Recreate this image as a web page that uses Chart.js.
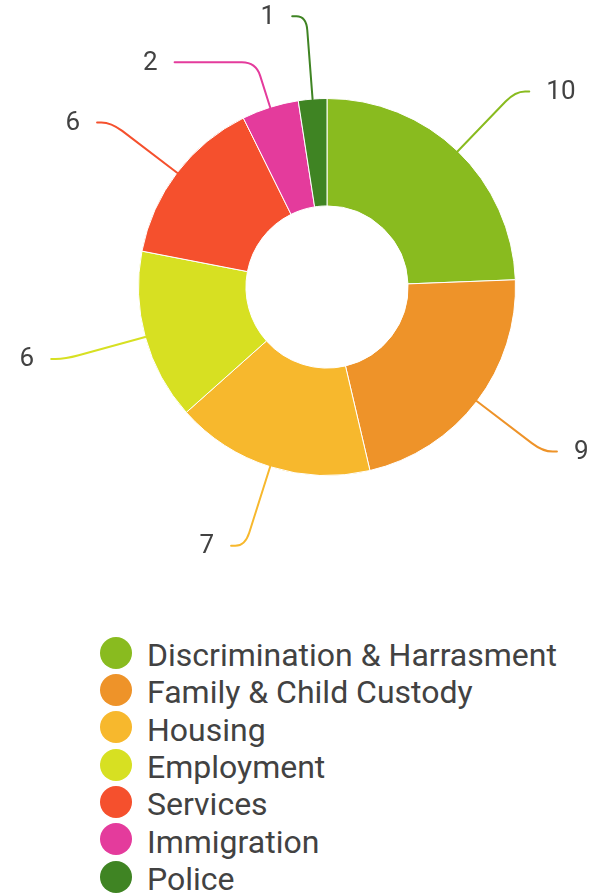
<!DOCTYPE html>
<html>
<head>
<meta charset="utf-8">
<script src="https://cdn.jsdelivr.net/npm/chart.js@4.4.0/dist/chart.umd.min.js"></script>
<style>
  html, body { margin: 0; padding: 0; background: #fff; }
  body { width: 605px; height: 894px; overflow: hidden; position: relative; font-family: Roboto, "Noto Sans", sans-serif; }
  #chart { position: absolute; left: 0; top: 0; }
  #legend { position: absolute; left: 100px; top: 634px; margin: 0; padding: 0; list-style: none; }
  #legend li { height: 37.33px; line-height: 37.33px; display: flex; align-items: center; font-size: 32px; color: #424242; white-space: nowrap; }
  #legend .dot { width: 32px; height: 32px; border-radius: 50%; margin-right: 15px; flex: none; }
  #legend .txt { position: relative; top: 3px; }
</style>
</head>
<body>
<canvas id="chart" width="605" height="600"></canvas>
<ul id="legend"></ul>
<script>
const categories = [
    "Discrimination & Harrasment",
    "Family & Child Custody",
    "Housing",
    "Employment",
    "Services",
    "Immigration",
    "Police"
];
const caseCounts = [10, 9, 7, 6, 6, 2, 1];
const sliceColors = ["#89BB1F", "#EE9329", "#F7B82D", "#D7E022", "#F5502D", "#E43B9C", "#3F8423"];

/* value labels with leader lines */
const valueLabels = {
    id: "valueLabels",
    afterDatasetsDraw(chart) {
        const ctx = chart.ctx;
        const ds = chart.data.datasets[0];
        const meta = chart.getDatasetMeta(0);

        const pts = meta.data.map((arc, i) => {
            const a = arc.getProps(["x", "y", "startAngle", "endAngle", "outerRadius"], true);
            const mid = (a.startAngle + a.endAngle) / 2;
            const cos = Math.cos(mid), sin = Math.sin(mid);
            const R = a.outerRadius + 83;
            return {
                i, x: a.x, y: a.y, cos, sin, R,
                side: cos >= 0 ? 1 : -1,
                sx: a.x + a.outerRadius * cos, sy: a.y + a.outerRadius * sin,
                ex: a.x + R * cos, ey: a.y + R * sin
            };
        });

        // keep labels apart on each side
        [1, -1].forEach(side => {
            const group = pts.filter(p => p.side === side).sort((a, b) => a.ey - b.ey);
            for (let k = 1; k < group.length; k++) {
                const prev = group[k - 1], p = group[k];
                if (p.ey < prev.ey + 46) {
                    p.ey = prev.ey + 46;
                    const dy = p.ey - p.y;
                    p.ex = p.x + side * Math.sqrt(Math.max(p.R * p.R - dy * dy, 0));
                }
            }
        });

        ctx.save();
        pts.forEach(p => {
            const t = Math.abs(p.sin) > 0.05 ? (p.ey - p.sy) / p.sin : 0;
            const kx = p.sx + p.cos * t, ky = p.ey;
            const tx = p.side > 0 ? Math.max(kx + 14, p.ex) : Math.min(kx - 14, p.ex);
            const a = Math.min(14, Math.abs(t) * 0.5);
            const b = Math.min(14, Math.abs(tx - kx) * 0.7);

            ctx.beginPath();
            ctx.moveTo(p.sx, p.sy);
            ctx.lineTo(kx - p.cos * a, ky - p.sin * a);
            ctx.quadraticCurveTo(kx, ky, kx + p.side * b, ky);
            ctx.lineTo(tx, ky);
            ctx.strokeStyle = ds.backgroundColor[p.i];
            ctx.lineWidth = 2;
            ctx.lineCap = "round";
            ctx.stroke();

            ctx.font = "26px Roboto";
            ctx.fillStyle = "#424242";
            ctx.textAlign = p.side > 0 ? "left" : "right";
            ctx.textBaseline = "middle";
            ctx.fillText(ds.data[p.i], tx + p.side * 17, ky + 1);
        });
        ctx.restore();
    }
};

const chart = new Chart(document.getElementById("chart"), {
    type: "doughnut",
    data: {
        labels: categories,
        datasets: [{
            data: caseCounts,
            backgroundColor: sliceColors,
            borderColor: "#ffffff",
            borderWidth: 1,
            hoverOffset: 0
        }]
    },
    options: {
        responsive: false,
        animation: false,
        cutout: "43%",
        layout: { padding: { left: 138, right: 89, top: 98, bottom: 124 } },
        plugins: {
            legend: { display: false },
            tooltip: { enabled: false }
        }
    },
    plugins: [valueLabels]
});

/* LEGEND */
const legend = document.getElementById("legend");
chart.data.labels.forEach((label, i) => {
    legend.innerHTML += `
    <li><span class="dot" style="background:${chart.data.datasets[0].backgroundColor[i]}"></span><span class="txt">${label}</span></li>`;
});
</script>
</body>
</html>
